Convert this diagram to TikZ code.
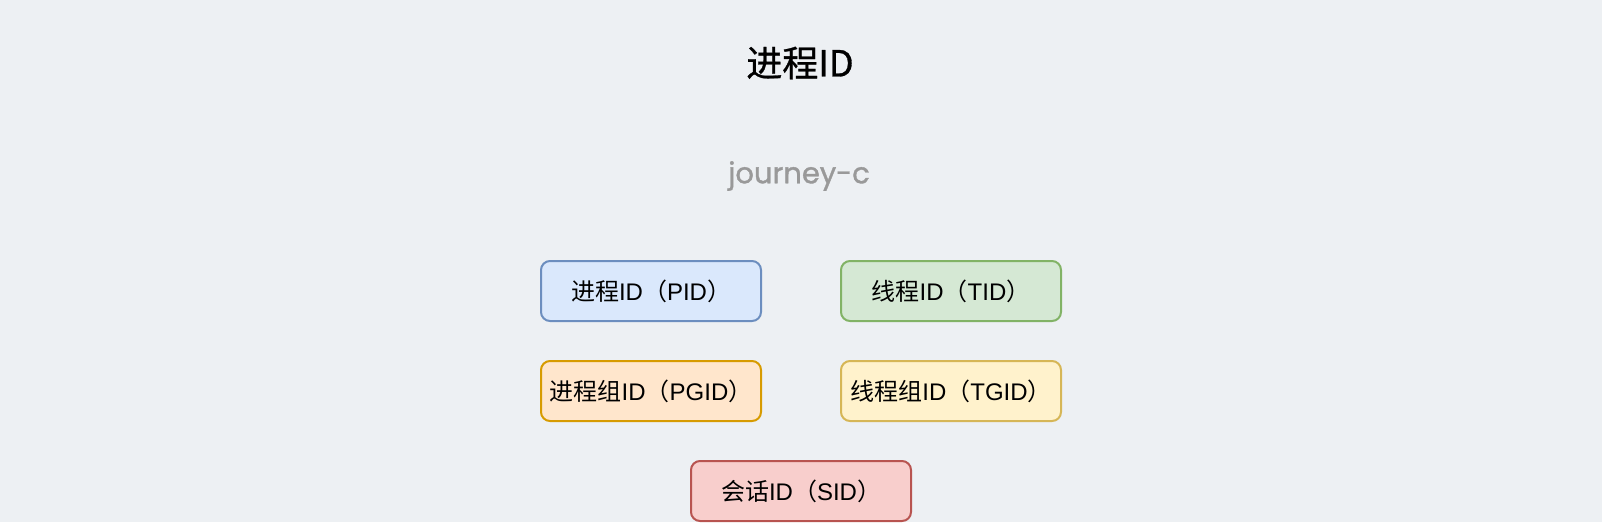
\documentclass[tikz,border=0pt]{standalone}
\usepackage{fontspec}
\setmainfont{Liberation Sans}
\newfontfamily\cjk{Noto Sans CJK SC}
\newfontfamily\cjktitle[FakeBold=0.8]{Noto Sans CJK SC}
\newfontfamily\jfont[FakeBold=1.2]{Poppins}
\definecolor{bg}{HTML}{EDF0F3}
\definecolor{fblue}{HTML}{DAE8FC}\definecolor{sblue}{HTML}{6C8EBF}
\definecolor{fgreen}{HTML}{D5E8D4}\definecolor{sgreen}{HTML}{82B366}
\definecolor{forange}{HTML}{FFE6CC}\definecolor{sorange}{HTML}{D79B00}
\definecolor{fyellow}{HTML}{FFF2CC}\definecolor{syellow}{HTML}{D6B656}
\definecolor{fred}{HTML}{F8CECC}\definecolor{sred}{HTML}{B85450}
\definecolor{jgray}{HTML}{999999}
\tikzset{
  idbox/.style={draw, line width=2pt, rounded corners=9pt, minimum width=220pt, minimum height=60pt, inner sep=0pt, font=\fontsize{24}{28}\selectfont, text=black},
}
\begin{document}
\begin{tikzpicture}[x=1pt,y=-1pt]
\useasboundingbox[fill=bg] (0,0) rectangle (1602,522);
\node (title) at (800,63) {\fontsize{36}{40}\selectfont\cjktitle 进程ID};
\node[text=jgray] (author) at (799,176) {\fontsize{29}{32}\selectfont\jfont journey-c};
\node[idbox, fill=fblue, draw=sblue] (pid) at (651,291) {{\cjk 进程}ID{\cjk （}PID{\cjk ）}};
\node[idbox, fill=fgreen, draw=sgreen] (tid) at (951,291) {{\cjk 线程}ID{\cjk （}TID{\cjk ）}};
\node[idbox, fill=forange, draw=sorange] (pgid) at (651,391) {{\cjk 进程组}ID{\cjk （}PGID{\cjk ）}};
\node[idbox, fill=fyellow, draw=syellow] (tgid) at (951,391) {{\cjk 线程组}ID{\cjk （}TGID{\cjk ）}};
\node[idbox, fill=fred, draw=sred] (sid) at (801,491) {{\cjk 会话}ID{\cjk （}SID{\cjk ）}};
\end{tikzpicture}
\end{document}
